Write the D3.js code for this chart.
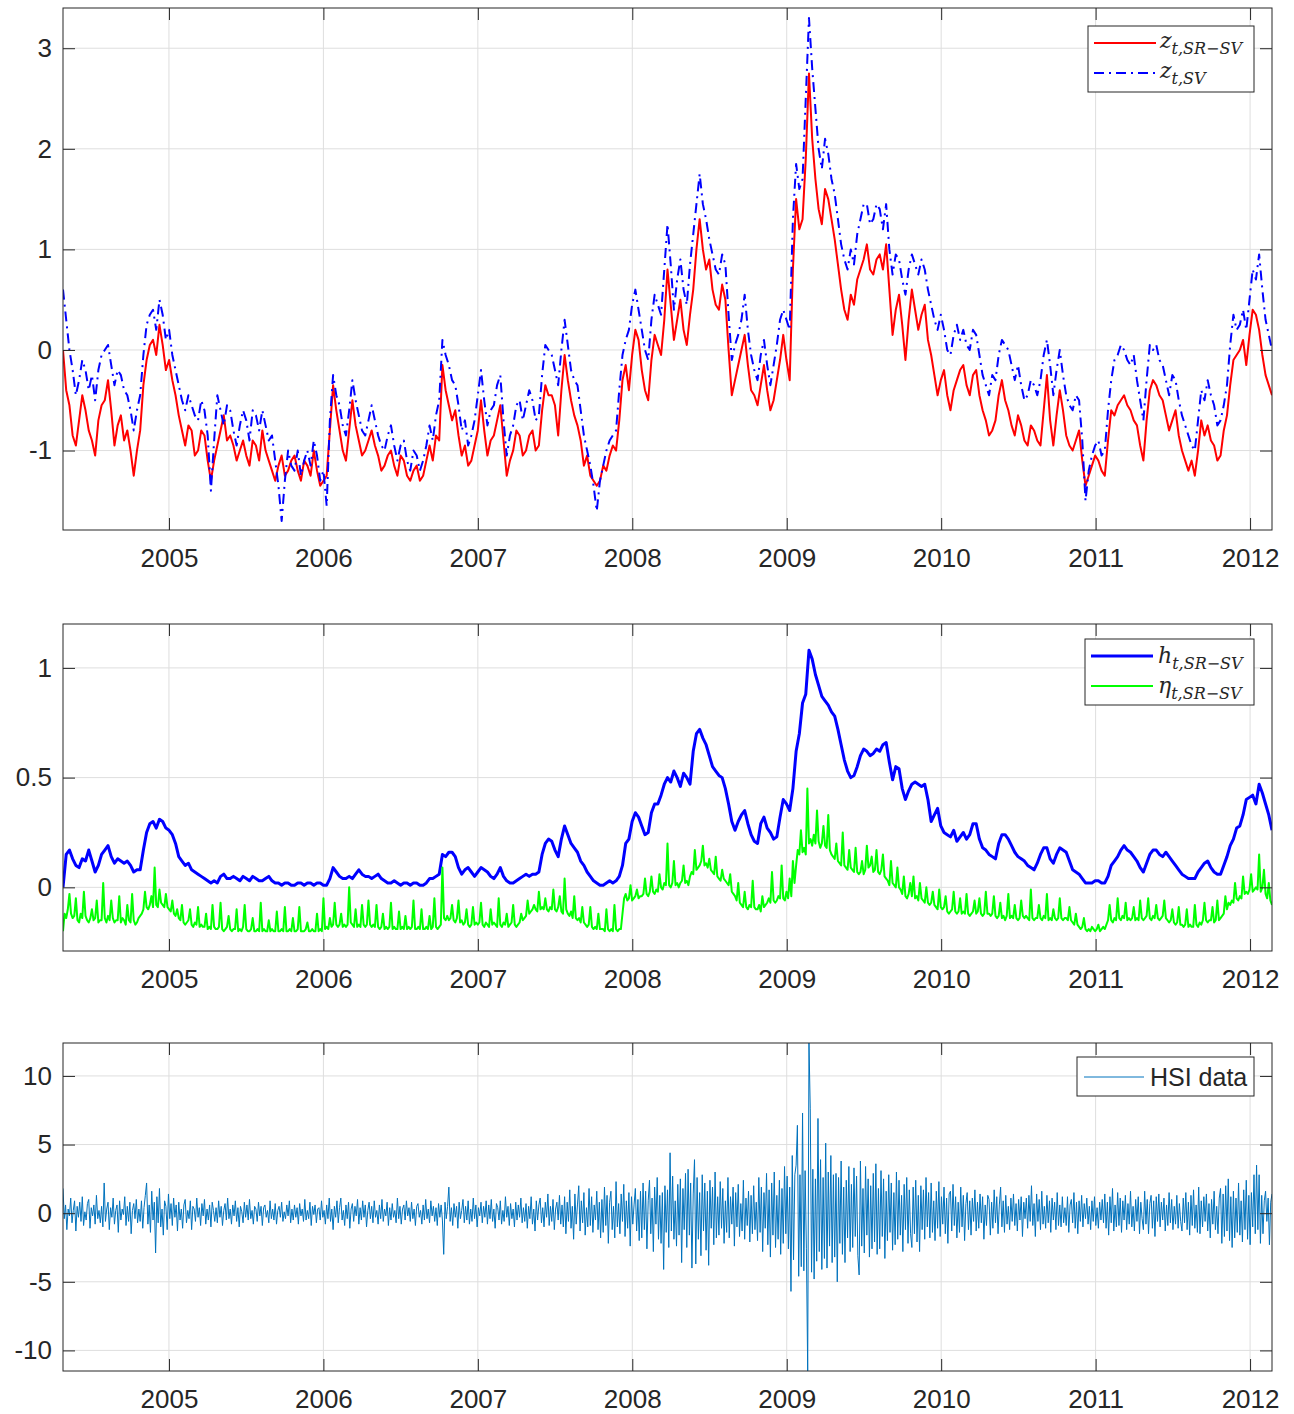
<!DOCTYPE html>
<html>
<head>
<meta charset="utf-8">
<script src="https://cdn.jsdelivr.net/npm/d3@7/dist/d3.min.js"></script>
<style>
body { margin: 0; background: #fff; }
text { font-family: "Liberation Sans", Arial, sans-serif; fill: #262626; }
.math { font-family: "DejaVu Serif", "Liberation Serif", serif; }
</style>
</head>
<body>
<svg id="fig" width="1294" height="1414"></svg>
<script>
// every series is sampled evenly from START_YEAR to END_YEAR
const START_YEAR = 2004.314;
const END_YEAR = 2012.142;

const yearTicks = [2005, 2006, 2007, 2008, 2009, 2010, 2011, 2012];
const zTicks = [-1, 0, 1, 2, 3];
const hTicks = [0, 0.5, 1];
const hsiTicks = [-10, -5, 0, 5, 10];

// z_{t,SR-SV}  (about 8 days apart)
const zSRSV = [
  0.0,-0.4,-0.55,-0.85,-0.95,-0.7,-0.45,-0.6,-0.8,-0.9,-1.05,-0.7,-0.55,-0.5,-0.3,-0.6,-0.95,-0.75,-0.65,-0.9,-0.8,-1.0,-1.25,-1.0,
  -0.8,-0.35,-0.1,0.05,0.1,-0.05,0.25,0.05,-0.2,-0.1,-0.3,-0.45,-0.65,-0.8,-0.95,-0.75,-0.8,-1.05,-1.0,-0.8,-0.85,-1.1,-1.3,-1.1,
  -0.95,-0.8,-0.65,-0.9,-0.85,-0.95,-1.1,-1.0,-0.9,-1.05,-1.15,-0.9,-0.95,-1.1,-0.8,-1.0,-1.1,-1.2,-1.3,-1.15,-1.05,-1.25,-1.2,-1.1,
  -1.05,-1.2,-1.3,-1.1,-1.15,-1.25,-1.0,-1.2,-1.35,-1.3,-1.25,-0.8,-0.35,-0.6,-0.8,-1.0,-1.1,-0.8,-0.5,-0.75,-0.9,-1.05,-1.0,-0.9,
  -0.8,-0.95,-1.05,-1.2,-1.15,-1.05,-1.0,-1.15,-1.25,-1.05,-1.1,-1.25,-1.3,-1.2,-1.15,-1.3,-1.25,-1.1,-0.95,-1.1,-0.85,-0.9,-0.15,-0.4,
  -0.55,-0.7,-0.6,-0.85,-1.05,-0.95,-1.15,-1.1,-0.95,-0.8,-0.5,-0.8,-1.05,-0.9,-0.85,-0.7,-0.55,-0.9,-1.25,-1.1,-1.0,-0.8,-0.85,-1.05,
  -1.0,-0.85,-0.8,-1.0,-0.95,-0.6,-0.35,-0.45,-0.45,-0.55,-0.85,-0.4,-0.05,-0.3,-0.5,-0.65,-0.75,-0.9,-1.15,-1.05,-1.25,-1.3,-1.35,-1.3,
  -1.15,-1.2,-1.05,-0.95,-1.0,-0.7,-0.3,-0.15,-0.4,-0.05,0.2,0.1,-0.2,-0.4,-0.5,-0.1,0.15,0.05,-0.05,0.3,0.8,0.45,0.1,0.3,
  0.5,0.2,0.05,0.35,0.6,1.0,1.3,1.0,0.8,0.9,0.6,0.45,0.4,0.65,0.5,0.0,-0.45,-0.3,-0.15,0.0,0.15,-0.15,-0.4,-0.45,
  -0.55,-0.35,-0.15,-0.4,-0.6,-0.5,-0.3,-0.1,0.15,-0.1,-0.3,0.8,1.5,1.2,1.3,1.9,2.75,2.1,1.7,1.4,1.25,1.6,1.5,1.3,
  1.1,0.85,0.6,0.4,0.3,0.55,0.45,0.7,0.8,0.9,1.05,0.8,0.75,0.9,0.95,0.8,1.05,0.6,0.15,0.4,0.55,0.25,-0.1,0.3,
  0.6,0.4,0.2,0.35,0.45,0.1,-0.05,-0.25,-0.45,-0.3,-0.2,-0.45,-0.6,-0.4,-0.3,-0.2,-0.15,-0.35,-0.45,-0.25,-0.2,-0.45,-0.6,-0.7,
  -0.85,-0.8,-0.7,-0.45,-0.3,-0.5,-0.6,-0.75,-0.85,-0.65,-0.75,-0.9,-0.95,-0.75,-0.8,-0.9,-0.95,-0.6,-0.25,-0.7,-0.95,-0.65,-0.4,-0.6,
  -0.85,-0.95,-1.0,-0.9,-0.8,-1.1,-1.35,-1.25,-1.15,-1.05,-1.1,-1.2,-1.25,-0.9,-0.6,-0.65,-0.55,-0.5,-0.45,-0.55,-0.6,-0.7,-0.75,-0.95,
  -1.1,-0.7,-0.4,-0.3,-0.35,-0.45,-0.5,-0.65,-0.8,-0.7,-0.6,-0.85,-1.0,-1.1,-1.2,-1.1,-1.25,-1.0,-0.7,-0.85,-0.75,-0.9,-0.95,-1.1,
  -1.05,-0.8,-0.65,-0.35,-0.1,-0.05,0.0,0.1,-0.15,0.15,0.4,0.35,0.2,-0.05,-0.25,-0.35,-0.45
];

// z_{t,SV}
const zSV = [
  0.6,0.3,0.0,-0.2,-0.45,-0.3,-0.1,-0.2,-0.4,-0.25,-0.5,-0.2,-0.05,0.0,0.05,-0.15,-0.35,-0.2,-0.25,-0.4,-0.45,-0.6,-0.8,-0.6,
  -0.45,-0.05,0.25,0.35,0.4,0.2,0.5,0.35,0.1,0.2,-0.05,-0.2,-0.35,-0.5,-0.6,-0.45,-0.55,-0.65,-0.7,-0.5,-0.6,-0.85,-1.4,-0.9,
  -0.45,-0.6,-0.75,-0.55,-0.6,-0.8,-0.95,-0.75,-0.6,-0.7,-0.9,-0.6,-0.65,-0.8,-0.6,-0.75,-0.9,-0.85,-1.1,-1.35,-1.7,-1.3,-1.0,-1.15,
  -1.2,-1.0,-1.25,-1.1,-1.0,-1.15,-0.9,-1.05,-1.3,-1.2,-1.55,-0.7,-0.25,-0.45,-0.55,-0.75,-0.85,-0.6,-0.3,-0.5,-0.65,-0.8,-0.85,-0.7,
  -0.55,-0.7,-0.85,-0.95,-1.0,-0.85,-0.75,-0.95,-1.1,-0.95,-0.9,-1.1,-1.2,-1.0,-1.05,-1.2,-1.1,-0.95,-0.75,-0.9,-0.65,-0.5,0.1,-0.05,
  -0.15,-0.3,-0.35,-0.55,-0.8,-0.7,-0.95,-0.85,-0.7,-0.45,-0.2,-0.5,-0.75,-0.6,-0.55,-0.35,-0.25,-0.7,-1.05,-0.85,-0.75,-0.55,-0.5,-0.7,
  -0.55,-0.4,-0.5,-0.7,-0.65,-0.25,0.05,0.0,-0.05,-0.2,-0.35,0.0,0.3,0.05,-0.2,-0.3,-0.35,-0.6,-0.85,-1.0,-1.15,-1.35,-1.6,-1.3,
  -1.15,-1.0,-0.9,-0.85,-0.8,-0.4,-0.05,0.1,0.2,0.45,0.6,0.4,0.2,0.0,-0.1,0.3,0.55,0.45,0.35,0.8,1.25,0.85,0.4,0.7,
  0.9,0.6,0.45,0.85,1.15,1.45,1.75,1.45,1.3,1.1,0.95,0.8,0.75,0.95,0.85,0.35,-0.1,0.05,0.15,0.3,0.55,0.2,-0.05,-0.2,
  -0.3,-0.05,0.1,-0.15,-0.35,-0.15,0.05,0.3,0.4,0.3,0.2,1.3,1.85,1.6,1.7,2.5,3.3,2.8,2.4,2.0,1.8,2.1,1.95,1.7,
  1.55,1.3,1.05,0.9,0.8,1.0,0.85,1.15,1.3,1.45,1.45,1.25,1.3,1.45,1.4,1.2,1.45,1.0,0.75,0.95,0.9,0.7,0.55,0.8,
  0.95,0.85,0.75,0.9,0.8,0.6,0.45,0.3,0.2,0.35,0.2,0.0,-0.05,0.15,0.25,0.1,0.2,0.05,0.0,0.2,0.15,-0.05,-0.25,-0.35,
  -0.45,-0.25,-0.3,-0.05,0.1,0.05,0.0,-0.15,-0.3,-0.15,-0.35,-0.5,-0.45,-0.3,-0.35,-0.45,-0.3,-0.05,0.1,-0.15,-0.45,-0.2,0.0,-0.25,
  -0.45,-0.55,-0.6,-0.45,-0.5,-0.9,-1.5,-1.2,-1.05,-0.95,-0.9,-1.05,-1.0,-0.6,-0.3,-0.1,-0.05,0.05,0.0,-0.1,-0.15,-0.05,-0.3,-0.5,
  -0.7,-0.3,0.05,0.0,0.05,-0.1,-0.15,-0.3,-0.45,-0.25,-0.3,-0.5,-0.65,-0.75,-0.85,-0.95,-1.0,-0.7,-0.4,-0.5,-0.3,-0.45,-0.55,-0.75,
  -0.7,-0.55,-0.35,0.05,0.35,0.2,0.25,0.4,0.2,0.5,0.8,0.7,0.95,0.6,0.3,0.15,0.0
];

// h_{t,SR-SV}
const hSRSV = [
  0.0,0.15,0.17,0.13,0.1,0.09,0.13,0.12,0.17,0.12,0.07,0.1,0.15,0.17,0.19,0.14,0.11,0.13,0.12,0.11,0.12,0.1,0.07,0.08,
  0.08,0.17,0.25,0.29,0.3,0.27,0.31,0.3,0.27,0.26,0.24,0.2,0.14,0.12,0.1,0.11,0.08,0.07,0.06,0.05,0.04,0.03,0.02,0.03,
  0.02,0.05,0.06,0.04,0.04,0.05,0.04,0.03,0.05,0.04,0.03,0.05,0.04,0.03,0.03,0.04,0.05,0.03,0.02,0.02,0.01,0.02,0.02,0.01,
  0.01,0.02,0.02,0.01,0.02,0.02,0.01,0.02,0.02,0.01,0.01,0.04,0.09,0.07,0.05,0.04,0.04,0.05,0.04,0.06,0.08,0.06,0.05,0.05,
  0.04,0.05,0.06,0.04,0.03,0.02,0.02,0.03,0.02,0.01,0.02,0.02,0.01,0.02,0.02,0.01,0.01,0.02,0.04,0.04,0.05,0.06,0.15,0.14,
  0.16,0.16,0.14,0.09,0.06,0.08,0.09,0.07,0.05,0.07,0.09,0.08,0.07,0.05,0.04,0.06,0.09,0.05,0.03,0.02,0.02,0.03,0.04,0.05,
  0.06,0.05,0.06,0.06,0.07,0.15,0.2,0.22,0.21,0.17,0.14,0.22,0.28,0.24,0.2,0.18,0.16,0.12,0.1,0.07,0.05,0.03,0.02,0.01,
  0.01,0.02,0.03,0.02,0.03,0.05,0.1,0.2,0.22,0.3,0.34,0.32,0.28,0.24,0.25,0.34,0.38,0.38,0.42,0.47,0.5,0.48,0.53,0.5,
  0.46,0.52,0.5,0.47,0.62,0.7,0.72,0.68,0.65,0.6,0.55,0.53,0.51,0.5,0.45,0.38,0.3,0.26,0.3,0.33,0.35,0.29,0.24,0.21,
  0.2,0.29,0.32,0.27,0.25,0.22,0.23,0.32,0.4,0.38,0.35,0.45,0.62,0.7,0.84,0.88,1.08,1.04,0.97,0.92,0.87,0.85,0.83,0.8,
  0.78,0.72,0.65,0.58,0.53,0.5,0.51,0.55,0.6,0.63,0.62,0.6,0.61,0.63,0.62,0.65,0.66,0.57,0.49,0.55,0.54,0.45,0.4,0.44,
  0.47,0.48,0.47,0.46,0.47,0.4,0.3,0.33,0.36,0.28,0.25,0.24,0.23,0.26,0.21,0.23,0.25,0.22,0.24,0.29,0.29,0.22,0.18,0.17,
  0.15,0.14,0.13,0.2,0.24,0.24,0.22,0.19,0.16,0.14,0.13,0.12,0.1,0.09,0.08,0.11,0.15,0.18,0.18,0.13,0.11,0.15,0.18,0.17,
  0.16,0.12,0.08,0.07,0.06,0.04,0.02,0.02,0.02,0.03,0.03,0.02,0.02,0.05,0.1,0.12,0.14,0.17,0.19,0.17,0.16,0.14,0.12,0.09,
  0.07,0.11,0.15,0.17,0.17,0.15,0.14,0.16,0.14,0.12,0.1,0.08,0.06,0.05,0.04,0.04,0.04,0.07,0.09,0.11,0.12,0.09,0.07,0.06,
  0.06,0.1,0.14,0.19,0.22,0.27,0.28,0.33,0.4,0.41,0.42,0.38,0.47,0.43,0.38,0.33,0.26
];

// eta_{t,SR-SV}  (about 4 days apart)
const etaSRSV = [
  -0.2,-0.12,-0.14,-0.1,-0.03,-0.12,-0.14,-0.13,-0.05,-0.15,-0.16,-0.12,-0.14,-0.02,-0.13,-0.15,-0.16,-0.14,-0.1,-0.15,-0.14,-0.06,-0.16,-0.15,
  -0.15,0.02,-0.14,-0.16,-0.13,-0.15,-0.06,-0.14,-0.16,-0.15,-0.15,-0.04,-0.16,-0.14,-0.15,-0.17,-0.08,-0.15,-0.16,-0.03,-0.15,-0.17,-0.16,-0.14,
  -0.13,-0.12,-0.1,-0.02,-0.09,-0.1,-0.08,-0.04,-0.09,0.09,-0.08,-0.09,-0.01,-0.07,-0.08,-0.09,-0.03,-0.09,-0.1,-0.11,-0.06,-0.12,-0.13,-0.1,
  -0.14,-0.15,-0.08,-0.16,-0.17,-0.16,-0.15,-0.1,-0.17,-0.18,-0.16,-0.17,-0.09,-0.18,-0.17,-0.18,-0.18,-0.12,-0.19,-0.18,-0.19,-0.08,-0.18,-0.19,
  -0.19,-0.18,-0.07,-0.19,-0.2,-0.19,-0.18,-0.13,-0.19,-0.2,-0.19,-0.19,-0.1,-0.2,-0.19,-0.2,-0.18,-0.08,-0.19,-0.2,-0.2,-0.19,-0.14,-0.2,
  -0.2,-0.19,-0.2,-0.07,-0.2,-0.19,-0.2,-0.2,-0.15,-0.2,-0.19,-0.2,-0.2,-0.11,-0.2,-0.2,-0.19,-0.2,-0.09,-0.2,-0.2,-0.19,-0.2,-0.14,
  -0.2,-0.2,-0.19,-0.09,-0.2,-0.2,-0.2,-0.19,-0.16,-0.2,-0.2,-0.19,-0.2,-0.2,-0.12,-0.2,-0.19,-0.2,-0.05,-0.19,-0.18,-0.19,-0.14,-0.18,
  -0.17,-0.07,-0.17,-0.18,-0.17,-0.12,-0.18,-0.17,-0.18,-0.17,0.0,-0.16,-0.17,-0.18,-0.1,-0.18,-0.17,-0.18,-0.08,-0.17,-0.18,-0.17,-0.06,-0.17,
  -0.18,-0.17,-0.18,-0.08,-0.18,-0.19,-0.18,-0.12,-0.19,-0.18,-0.19,-0.18,-0.07,-0.19,-0.18,-0.19,-0.19,-0.11,-0.19,-0.18,-0.19,-0.13,-0.19,-0.18,
  -0.19,-0.18,-0.06,-0.19,-0.19,-0.18,-0.19,-0.1,-0.19,-0.19,-0.18,-0.19,-0.13,-0.19,-0.18,-0.05,-0.18,-0.19,-0.18,-0.17,0.09,-0.14,-0.15,-0.13,
  -0.15,-0.14,-0.08,-0.15,-0.16,-0.14,-0.06,-0.16,-0.15,-0.17,-0.16,-0.1,-0.17,-0.18,-0.17,-0.09,-0.17,-0.16,-0.17,-0.16,-0.07,-0.17,-0.18,-0.16,
  -0.17,-0.18,-0.1,-0.17,-0.16,-0.17,-0.18,-0.05,-0.17,-0.18,-0.16,-0.17,-0.12,-0.18,-0.17,-0.16,-0.08,-0.17,-0.18,-0.17,-0.16,-0.12,-0.15,-0.14,
  -0.13,-0.06,-0.12,-0.11,-0.1,-0.08,-0.1,-0.11,-0.02,-0.1,-0.09,-0.1,-0.05,-0.1,-0.11,-0.09,-0.1,-0.01,-0.1,-0.11,-0.09,-0.04,-0.11,-0.12,
  0.04,-0.1,-0.12,-0.13,-0.11,-0.14,-0.04,-0.14,-0.15,-0.14,-0.16,-0.09,-0.16,-0.17,-0.18,-0.17,-0.09,-0.18,-0.19,-0.18,-0.19,-0.12,-0.19,-0.19,
  -0.19,-0.2,-0.1,-0.19,-0.2,-0.19,-0.2,-0.08,-0.19,-0.2,-0.19,-0.19,-0.12,-0.05,-0.03,-0.06,-0.05,0.01,-0.06,-0.05,-0.04,-0.01,-0.05,-0.04,
  -0.04,-0.03,0.04,-0.03,-0.04,-0.02,0.05,-0.02,-0.03,-0.01,-0.02,0.06,0.0,-0.01,0.02,0.01,0.2,0.01,0.0,0.02,0.12,0.01,0.02,0.0,
  0.02,0.03,0.1,0.02,0.03,0.01,0.05,0.07,0.06,0.17,0.08,0.09,0.1,0.12,0.19,0.1,0.11,0.09,0.13,0.08,0.07,0.06,0.14,0.05,
  0.04,0.03,0.08,0.04,0.03,0.02,0.01,0.06,-0.02,-0.03,-0.04,-0.06,0.02,-0.07,-0.08,-0.09,-0.02,-0.09,-0.1,-0.08,-0.09,0.03,-0.09,-0.1,
  -0.1,-0.08,-0.11,-0.04,-0.09,-0.08,-0.07,-0.05,-0.07,0.07,-0.06,-0.07,-0.06,-0.04,-0.05,0.1,-0.05,-0.06,-0.02,-0.05,0.04,-0.04,0.12,0.02,
  0.1,0.17,0.15,0.26,0.16,0.18,0.15,0.45,0.2,0.22,0.19,0.24,0.2,0.35,0.21,0.18,0.2,0.28,0.19,0.18,0.33,0.17,0.15,0.14,
  0.13,0.2,0.12,0.11,0.1,0.25,0.1,0.09,0.08,0.17,0.09,0.08,0.07,0.18,0.07,0.06,0.07,0.12,0.06,0.08,0.19,0.09,0.1,0.14,
  0.07,0.08,0.17,0.07,0.06,0.08,0.15,0.05,0.04,0.03,0.01,0.12,0.02,0.01,0.0,0.09,0.0,-0.01,-0.03,0.05,-0.04,-0.05,-0.03,0.02,
  -0.04,0.05,-0.05,-0.04,-0.06,0.02,-0.05,-0.06,-0.07,0.0,-0.07,-0.08,-0.07,-0.02,-0.08,-0.09,-0.1,-0.01,-0.09,-0.1,-0.09,-0.04,-0.11,-0.12,
  -0.11,-0.1,-0.02,-0.11,-0.12,-0.11,-0.05,-0.12,-0.11,-0.12,-0.03,-0.12,-0.13,-0.12,-0.11,-0.06,-0.12,-0.11,-0.05,-0.12,-0.13,-0.12,-0.02,-0.12,
  -0.12,-0.13,-0.12,-0.04,-0.13,-0.14,-0.13,-0.07,-0.14,-0.13,-0.15,-0.13,-0.03,-0.14,-0.13,-0.14,-0.08,-0.14,-0.15,-0.14,-0.06,-0.13,-0.14,-0.13,
  -0.14,-0.15,-0.01,-0.14,-0.15,-0.14,-0.14,-0.08,-0.14,-0.15,-0.13,-0.14,-0.03,-0.15,-0.14,-0.15,-0.1,-0.14,-0.15,-0.14,-0.05,-0.14,-0.15,-0.14,
  -0.14,-0.15,-0.09,-0.15,-0.16,-0.17,-0.12,-0.17,-0.18,-0.19,-0.18,-0.14,-0.19,-0.2,-0.19,-0.2,-0.18,-0.19,-0.2,-0.19,-0.17,-0.2,-0.19,-0.18,
  -0.19,-0.17,-0.15,-0.08,-0.15,-0.16,-0.14,-0.15,-0.05,-0.14,-0.15,-0.13,-0.14,-0.07,-0.15,-0.14,-0.15,-0.14,-0.09,-0.15,-0.14,-0.15,-0.06,-0.14,
  -0.15,-0.14,-0.13,-0.05,-0.14,-0.15,-0.13,-0.14,-0.08,-0.14,-0.15,-0.14,-0.13,-0.06,-0.14,-0.15,-0.16,-0.15,-0.1,-0.16,-0.17,-0.16,-0.09,-0.17,
  -0.17,-0.18,-0.17,-0.1,-0.18,-0.17,-0.18,-0.18,-0.08,-0.17,-0.18,-0.16,-0.17,-0.15,-0.07,-0.15,-0.16,-0.15,-0.15,-0.09,-0.16,-0.15,-0.06,-0.15,
  -0.14,-0.13,-0.12,-0.04,-0.1,-0.07,-0.08,-0.06,-0.07,0.02,-0.05,-0.06,-0.04,-0.05,0.05,-0.03,-0.02,-0.03,-0.01,0.06,-0.02,-0.01,0.0,-0.01,
  0.15,-0.02,0.0,0.08,-0.03,-0.05,0.02,-0.06,-0.08
];

// HSI daily returns in %  (about 3 days apart)
const hsiData = [
  1.8,-0.4,0.6,-1.2,0.3,-0.2,1.1,-0.7,0.2,0.9,-1.3,0.5,-0.3,0.8,-0.6,1.2,-0.9,0.1,-0.5,0.7,1.0,-1.1,0.4,-0.2,0.6,-0.8,1.3,-0.4,0.2,-0.7,
  0.5,-1.0,2.2,-0.6,0.3,0.8,-1.2,0.4,-0.3,1.1,-0.8,0.2,0.6,-1.4,0.9,-0.5,0.3,-0.1,1.2,-0.9,0.5,-0.6,0.8,-1.5,0.2,0.7,-0.4,1.0,-0.7,0.3,
  -0.6,0.9,-1.1,0.4,1.3,2.2,-0.8,0.6,-1.4,1.6,-0.5,0.8,-2.9,1.2,-0.7,1.8,-1.0,0.3,-1.6,0.9,0.5,-1.2,1.4,-0.4,0.7,-0.9,1.1,-0.3,0.6,-1.3,
  0.8,-0.5,0.3,-1.1,0.6,1.0,-0.7,0.2,-0.4,0.9,-1.2,0.5,0.3,-0.6,1.1,-0.3,0.4,-0.9,0.7,-0.2,1.0,-0.8,0.3,-0.5,0.6,-1.0,0.8,0.2,-0.6,0.4,
  -0.7,0.9,-0.3,0.5,-0.9,0.2,0.7,-0.5,1.1,-0.4,0.3,-0.8,0.6,-0.2,0.9,-0.6,0.4,-1.0,0.5,0.1,-0.7,0.8,-0.3,0.6,-0.5,1.0,-0.4,0.2,-0.8,0.5,
  0.3,-0.6,0.8,-0.2,0.5,-0.9,0.4,0.6,-0.3,0.2,-0.7,0.9,-0.4,0.3,-0.5,0.7,-0.8,0.2,0.5,-0.3,0.8,-0.6,0.1,-0.4,0.6,-0.2,0.9,-0.7,0.3,-0.5,
  0.6,-0.3,0.4,-0.8,0.7,-0.2,0.3,-0.6,1.0,-0.5,0.2,-0.4,0.8,-0.9,0.5,-0.1,0.6,-0.7,0.3,0.4,-0.5,0.9,-0.3,0.2,-0.8,0.6,-0.4,1.1,-0.6,0.3,
  -1.2,0.5,-0.3,0.9,-0.7,0.4,1.1,-0.5,0.2,-0.9,0.6,-0.4,0.8,-1.1,0.3,0.7,-0.6,0.5,-0.2,1.0,-0.8,0.4,-0.5,0.9,-0.3,0.6,-1.0,0.2,0.8,-0.4,
  0.5,-0.7,0.9,-0.3,0.2,-0.8,0.6,-0.4,1.0,-0.6,0.3,-0.2,0.8,-0.9,0.4,-0.5,0.7,-0.3,0.2,-0.7,1.1,-0.4,0.5,-0.8,0.3,0.6,-0.5,0.9,-0.2,0.4,
  -0.6,0.8,-0.4,0.3,-0.9,0.5,0.7,-0.3,0.2,-0.8,0.6,-0.5,1.0,-0.4,0.3,-0.7,0.9,-0.2,0.5,-0.6,0.4,-0.9,0.7,-0.3,0.6,-0.5,-3.0,0.8,-0.4,0.5,
  1.9,-0.6,0.4,-0.9,0.7,-0.3,0.5,-1.1,0.8,-0.4,0.2,1.0,-0.7,0.5,-0.5,0.9,-0.8,0.3,-0.6,1.1,-0.4,0.6,-1.0,0.4,-0.2,0.8,-0.7,0.5,-0.3,0.9,
  -0.8,0.6,-0.4,1.0,-0.6,0.3,-1.1,0.7,0.4,-0.5,0.9,-0.8,0.2,-0.6,1.2,-0.3,0.5,-0.9,0.7,-0.4,0.3,-1.0,0.8,-0.5,0.6,-0.3,1.1,-0.7,0.4,-0.6,
  0.7,-1.1,0.5,-0.4,1.2,-0.8,0.3,-1.3,0.9,-0.5,0.6,1.1,-0.7,0.4,-1.0,0.8,-0.3,1.4,-0.9,0.5,-0.6,1.0,-1.2,0.3,0.8,-0.5,1.3,-0.8,0.6,-1.0,
  1.2,-1.5,0.8,-0.6,1.7,-1.1,0.5,-1.9,1.4,-0.8,0.6,2.0,-1.3,0.9,-0.7,1.5,-1.6,0.4,-1.0,1.8,-0.9,1.2,-1.4,0.6,-0.5,1.6,-1.2,0.8,-1.8,1.0,
  -1.4,1.9,-0.9,1.3,-2.2,0.8,1.6,-1.2,0.5,-1.8,2.3,-1.0,0.7,-1.5,1.4,-0.6,2.1,-1.7,0.9,-1.1,1.5,-2.4,1.2,-0.8,0.6,1.8,-1.3,1.0,-2.0,1.6,
  -1.8,2.2,-1.2,1.6,-2.6,0.9,2.4,-1.5,1.1,-2.8,1.9,-0.8,2.6,-1.9,1.3,-2.2,1.5,-4.1,2.0,-1.4,1.7,-2.5,4.4,-1.3,2.7,-1.9,0.9,-2.4,2.1,-1.6,
  2.5,-3.6,1.8,-1.2,2.9,-2.5,3.2,-1.6,2.2,-4.0,1.4,3.9,-3.7,2.6,-1.9,1.5,-3.1,2.8,-1.3,2.2,-2.7,1.6,-3.8,2.4,-1.1,1.9,-2.3,3.0,-1.8,1.2,
  -1.6,2.3,-1.1,1.8,-2.2,0.9,-1.4,2.6,-1.8,1.2,-0.8,1.9,-2.4,1.5,-1.0,2.1,-1.7,0.7,-1.3,2.4,-1.9,1.1,-0.9,1.6,-2.1,1.3,-1.5,2.0,-1.2,0.8,
  -2.0,2.6,-1.4,1.9,-2.8,1.5,-1.1,2.9,-2.3,1.7,-3.2,2.2,-1.6,3.0,-2.5,1.3,-1.9,2.4,-3.0,1.8,-2.2,3.4,-1.5,2.7,-2.6,1.9,-5.7,4.2,-3.4,2.8,
  3.5,6.4,-4.6,2.8,-3.9,7.3,-4.2,3.1,-2.6,-11.5,12.4,7.6,-4.3,3.2,-4.8,2.5,-3.5,6.9,-2.8,3.9,-4.1,2.6,-3.3,5.1,-4.0,3.0,-2.4,4.2,-3.6,2.8,
  -3.2,2.9,-5.0,2.6,-2.2,3.8,-3.0,1.9,-3.6,2.4,-1.8,3.4,-2.8,2.1,-2.5,3.3,-1.7,2.7,-3.1,-4.5,3.8,-2.4,1.8,-2.9,3.4,-1.6,2.5,-3.2,2.0,-2.6,
  2.9,-2.1,3.6,-3.0,1.8,-2.6,3.1,-1.7,2.5,-3.3,1.6,-2.0,2.8,-1.4,2.2,-2.7,1.5,-2.3,3.0,-1.9,2.4,-1.6,1.3,-2.8,2.1,-1.2,2.6,-2.2,1.7,-1.5,
  -2.5,1.9,-1.5,2.4,-2.1,1.3,-2.8,2.0,-1.2,1.7,-1.9,2.6,-1.0,1.5,-1.8,2.2,-1.4,0.9,-2.0,1.6,-1.1,2.3,-1.7,1.2,-0.8,1.9,-1.5,1.1,-2.2,1.4,
  1.6,-1.3,2.1,-0.9,1.2,-1.8,0.8,-1.4,1.9,-1.0,1.3,-2.0,0.7,1.5,-1.2,0.9,-1.6,1.1,-0.6,1.7,-1.3,0.8,-1.1,1.4,-0.7,1.2,-1.9,0.6,-0.9,1.3,
  1.0,-1.6,0.8,-1.1,1.7,-0.7,1.2,-1.5,0.6,1.9,-1.0,0.9,-1.4,1.3,-0.8,0.5,-1.2,1.1,-0.6,1.4,-0.9,0.7,-1.3,1.0,-0.5,1.2,-1.7,0.8,-0.4,1.1,
  -1.1,1.3,-0.6,2.0,-0.9,0.7,-1.7,1.4,-0.6,1.0,-1.2,1.6,-0.8,0.5,-1.1,1.3,-0.7,0.9,-1.4,1.1,-0.5,0.8,-1.2,1.5,-0.9,0.6,-1.0,1.2,-0.7,0.4,
  -0.9,1.2,-1.4,0.6,1.0,-0.7,1.5,-1.1,0.8,-1.5,0.9,-0.6,1.3,-1.0,0.7,-0.4,1.1,-0.8,0.5,-1.2,0.9,-0.6,1.2,-0.9,0.4,-1.1,0.8,-0.5,1.0,-0.7,
  1.4,-1.1,0.8,-1.6,1.2,-0.7,1.8,-1.3,0.6,-1.0,1.5,-0.9,1.1,-1.4,0.9,-0.5,1.3,-1.2,0.7,-0.8,1.6,-1.0,0.5,-1.3,1.0,-0.6,1.2,-1.5,0.8,-0.4,
  -1.2,1.6,-0.8,1.0,-1.5,0.7,1.3,-1.1,0.9,-1.7,1.2,-0.6,1.4,-1.0,0.8,-0.5,1.1,-1.3,0.6,-0.9,1.5,-0.7,1.0,-1.2,0.5,-0.8,1.3,-1.1,0.7,-0.6,
  -1.3,1.1,-0.7,1.5,-1.2,0.8,-1.6,1.3,-0.9,1.7,-1.1,0.6,-1.4,1.9,-1.5,0.9,-1.0,1.2,-0.6,1.4,-1.3,0.7,-1.8,1.0,-0.8,1.6,-1.2,0.5,-1.5,1.1,
  1.8,-2.2,1.4,-1.7,2.0,-1.3,2.5,-2.0,1.2,-2.5,1.6,-1.8,1.1,-1.4,2.2,-1.6,0.9,-2.1,1.7,-1.2,2.4,-1.9,1.3,-2.3,1.5,-1.0,2.8,-1.5,3.5,-1.2,
  2.8,-2.2,1.3,-1.5,0.9,1.6,-0.6,1.1,-2.3,0.8,1.4
];


const svg = d3.select('#fig');

const left = 63;
const right = 1272;
const TICK = 12;
const AXIS_COLOR = '#262626';
const GRID_COLOR = '#dedede';

const x = d3.scaleLinear()
    .domain([START_YEAR, END_YEAR])
    .range([left, right]);

const toPoints = values => values.map((v, i) => ({
    t: START_YEAR + i * (END_YEAR - START_YEAR) / (values.length - 1),
    v: v
}))

const setupPanel = (top, bottom, yDomain, yTicks) => {
    const y = d3.scaleLinear().domain(yDomain).range([bottom, top]);
    const clipId = 'clip' + top;

    svg.append('clipPath').attr('id', clipId)
        .append('rect')
        .attr('x', left).attr('y', top)
        .attr('width', right - left).attr('height', bottom - top)

    // grid behind the data
    const grid = svg.append('g')
    grid.selectAll('.vgrid').data(yearTicks).enter()
        .append('line')
        .attr('x1', d => x(d)).attr('x2', d => x(d))
        .attr('y1', top).attr('y2', bottom)
        .attr('stroke', GRID_COLOR)
    grid.selectAll('.hgrid').data(yTicks).enter()
        .append('line')
        .attr('x1', left).attr('x2', right)
        .attr('y1', d => y(d)).attr('y2', d => y(d))
        .attr('stroke', GRID_COLOR)

    const plot = svg.append('g').attr('clip-path', `url(#${clipId})`)
    return {y, top, bottom, yTicks, plot}
}

const drawLine = (panel, values, color, width, dash) => {
    const line = d3.line()
        .x(d => x(d.t))
        .y(d => panel.y(d.v))
    panel.plot.append('path')
        .datum(toPoints(values))
        .attr('d', line)
        .attr('fill', 'none')
        .attr('stroke', color)
        .attr('stroke-width', width)
        .attr('stroke-linejoin', 'round')
        .attr('stroke-dasharray', dash || null)
}

const styleAxis = g => {
    g.select('.domain').remove();
    g.selectAll('line').attr('stroke', AXIS_COLOR);
    g.selectAll('text').attr('font-size', 26).attr('fill', AXIS_COLOR)
        .attr('font-family', '"Liberation Sans", Arial, sans-serif');
}

// ticks point inward on all four sides, labels only bottom and left
const drawAxes = panel => {
    const {y, top, bottom, yTicks} = panel
    svg.append('g')
        .attr('transform', `translate(0,${bottom})`)
        .call(d3.axisBottom(x).tickValues(yearTicks).tickSize(-TICK).tickPadding(19).tickFormat(d3.format('d')))
        .call(styleAxis)
    svg.append('g')
        .attr('transform', `translate(0,${top})`)
        .call(d3.axisTop(x).tickValues(yearTicks).tickSize(-TICK).tickFormat(''))
        .call(styleAxis)
    svg.append('g')
        .attr('transform', `translate(${left},0)`)
        .call(d3.axisLeft(y).tickValues(yTicks).tickSize(-TICK).tickPadding(11).tickFormat(d => String(d)))
        .call(styleAxis)
    svg.append('g')
        .attr('transform', `translate(${right},0)`)
        .call(d3.axisRight(y).tickValues(yTicks).tickSize(-TICK).tickFormat(''))
        .call(styleAxis)
    svg.append('rect')
        .attr('x', left).attr('y', top)
        .attr('width', right - left).attr('height', bottom - top)
        .attr('fill', 'none')
        .attr('stroke', AXIS_COLOR)
}

// LaTeX-like label: letter plus subscript
const mathLabel = (g, lx, ly, main, sub) => {
    const t = g.append('text').attr('class', 'math').attr('x', lx).attr('y', ly)
    t.append('tspan').attr('font-style', 'italic').attr('font-size', 22).text(main)
    t.append('tspan').attr('font-style', 'italic').attr('font-size', 16).attr('dy', 6).text(sub)
}

const legendBox = (bx, by, bw, bh) => {
    const g = svg.append('g')
    g.append('rect')
        .attr('x', bx).attr('y', by).attr('width', bw).attr('height', bh)
        .attr('fill', '#fff').attr('stroke', AXIS_COLOR)
    return g
}


// top panel
const p1 = setupPanel(8, 530, [-1.79, 3.4], zTicks)
drawLine(p1, zSRSV, '#ff0000', 2)
drawLine(p1, zSV, '#0000ff', 2, '10,5,2,5')
drawAxes(p1)

const leg1 = legendBox(1088, 26, 166, 66)
leg1.append('line').attr('x1', 1094).attr('x2', 1156).attr('y1', 43).attr('y2', 43)
    .attr('stroke', '#ff0000').attr('stroke-width', 2)
leg1.append('line').attr('x1', 1094).attr('x2', 1156).attr('y1', 73).attr('y2', 73)
    .attr('stroke', '#0000ff').attr('stroke-width', 2).attr('stroke-dasharray', '10,5,2,5')
mathLabel(leg1, 1160, 48, 'z', 't,SR\u2212SV')
mathLabel(leg1, 1160, 78, 'z', 't,SV')

// middle panel
const p2 = setupPanel(624, 951, [-0.29, 1.2], hTicks)
drawLine(p2, hSRSV, '#0000ff', 3)
drawLine(p2, etaSRSV, '#00ff00', 2)
drawAxes(p2)

const leg2 = legendBox(1085, 639, 169, 66)
leg2.append('line').attr('x1', 1091).attr('x2', 1153).attr('y1', 656).attr('y2', 656)
    .attr('stroke', '#0000ff').attr('stroke-width', 3)
leg2.append('line').attr('x1', 1091).attr('x2', 1153).attr('y1', 686).attr('y2', 686)
    .attr('stroke', '#00ff00').attr('stroke-width', 2)
mathLabel(leg2, 1158, 663, 'h', 't,SR\u2212SV')
mathLabel(leg2, 1158, 693, '\u03b7', 't,SR\u2212SV')

// bottom panel
const p3 = setupPanel(1043, 1371, [-11.5, 12.4], hsiTicks)
drawLine(p3, hsiData, '#0072bd', 1)
drawAxes(p3)

const leg3 = legendBox(1077, 1057, 177, 39)
leg3.append('line').attr('x1', 1084).attr('x2', 1144).attr('y1', 1077).attr('y2', 1077)
    .attr('stroke', '#0072bd').attr('stroke-width', 1)
leg3.append('text').attr('x', 1150).attr('y', 1086)
    .attr('font-size', 25).text('HSI data')
</script>
</body>
</html>
